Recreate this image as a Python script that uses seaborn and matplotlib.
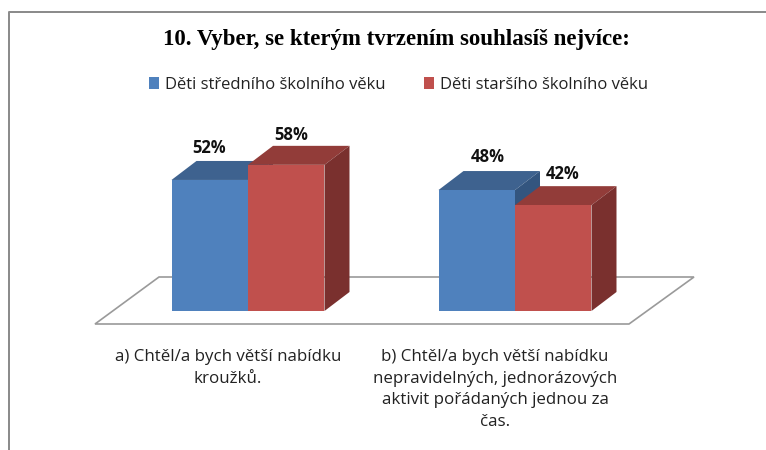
import matplotlib
matplotlib.use("Agg")
import matplotlib.pyplot as plt
import matplotlib.transforms as mtrans
from matplotlib.patches import Polygon, Patch
from matplotlib.lines import Line2D
import pandas as pd
import seaborn as sns

title = "10. Vyber, se kterým tvrzením souhlasíš nejvíce:"
series_names = ["Děti středního školního věku", "Děti staršího školního věku"]
categories = ["a) Chtěl/a bych větší nabídku\nkroužků.",
              "b) Chtěl/a bych větší nabídku\nnepravidelných, jednorázových\naktivit pořádaných jednou za\nčas."]
values_mid = [52, 48]
values_old = [58, 42]

front_colors = ["#4F81BD", "#C0504D"]
top_colors = ["#3E628F", "#923C39"]
side_colors = ["#33557F", "#7A302E"]

W, H = 766, 450
sns.set_theme(style="white")
plt.rcParams["font.family"] = ["Open Sans", "DejaVu Sans"]

df = pd.DataFrame({
    "cat": categories * 2,
    "group": [series_names[0]] * 2 + [series_names[1]] * 2,
    "val": values_mid + values_old,
})

fig = plt.figure(figsize=(W / 100, H / 100), dpi=100)
# axes box in pixels: x 120-660, y 150-311
ax = fig.add_axes([120 / W, (H - 311) / H, 540 / W, 161 / H])
sns.barplot(data=df, x="cat", y="val", hue="group", hue_order=series_names,
            palette=front_colors, width=0.573, saturation=1, legend=False, ax=ax)

px_x = 267.0        # px per category
px_y = 2.52         # px per percent
ax.set_xlim((120 - 248) / px_x, (660 - 248) / px_x)
ax.set_ylim(0, 161 / px_y)
dx, dy = 25 / px_x, 19 / px_y

# 3D faces of the columns
z = {0: 3, 1: 6}
for cont_i, cont in enumerate(ax.containers):
    for bar in cont:
        x0, w, h = bar.get_x(), bar.get_width(), bar.get_height()
        bar.set_zorder(z[cont_i] + 1)
        bar.set_linewidth(0)
        ax.add_patch(Polygon([(x0, h), (x0 + dx, h + dy), (x0 + w + dx, h + dy), (x0 + w, h)],
                             fc=top_colors[cont_i], lw=0, zorder=z[cont_i], clip_on=False))
        ax.add_patch(Polygon([(x0 + w, 0), (x0 + w + dx, dy), (x0 + w + dx, h + dy), (x0 + w, h)],
                             fc=side_colors[cont_i], lw=0, zorder=z[cont_i], clip_on=False))

# data labels, nudged by hand in px
label_offsets = {0: [(-1, 32), (5, 30)], 1: [(11, 33), (9, 31)]}
for cont_i, cont in enumerate(ax.containers):
    for j, bar in enumerate(cont):
        ox, oy = label_offsets[j][cont_i]
        ax.annotate(f"{int(bar.get_height())}%",
                    (bar.get_x() + bar.get_width() / 2, bar.get_height()),
                    xytext=(ox * 0.72, oy * 0.72), textcoords="offset points",
                    ha="center", va="center", fontsize=12, fontweight="bold",
                    color="#111111", zorder=10, annotation_clip=False)

ax.set_xlabel("")
ax.set_ylabel("")
ax.set_yticks([])
ax.tick_params(axis="x", length=0, pad=27.5, labelsize=12.2, labelcolor="#222222")
sns.despine(ax=ax, left=True, bottom=True)
for lab in ax.get_xticklabels():
    lab.set_linespacing(1.47)
    lab.set_transform(lab.get_transform() +
                      mtrans.ScaledTranslation(-0.2, 0, fig.dpi_scale_trans))

# floor and outer frame, in figure pixels
to_fig = mtrans.Affine2D().scale(1 / W, -1 / H).translate(0, 1) + fig.transFigure
fig.add_artist(Polygon([(95, 324), (159, 277), (694, 277), (629, 324)], closed=True,
                       fc="white", ec="#9A9A9A", lw=1.2, transform=to_fig, zorder=0.5))
ax.set_zorder(2)
ax.patch.set_alpha(0)
fig.add_artist(Line2D([9, 9, W], [H, 12, 12], color="#8C8C8C", lw=1.44, transform=to_fig))

fig.text(396 / W, 1 - 40 / H, title, family="Liberation Serif", fontweight="bold",
         fontsize=16.5, ha="center", va="center", color="black")

handles = [Patch(fc=c, lw=0) for c in front_colors]
fig.legend(handles, series_names, loc="center", bbox_to_anchor=(398.5 / W, 1 - 85 / H), ncol=2,
           frameon=False, fontsize=12, handlelength=0.6, handleheight=0.7,
           handletextpad=0.36, columnspacing=2.35, labelcolor="#222222")

fig.savefig("out.png", dpi=100, facecolor="white")
